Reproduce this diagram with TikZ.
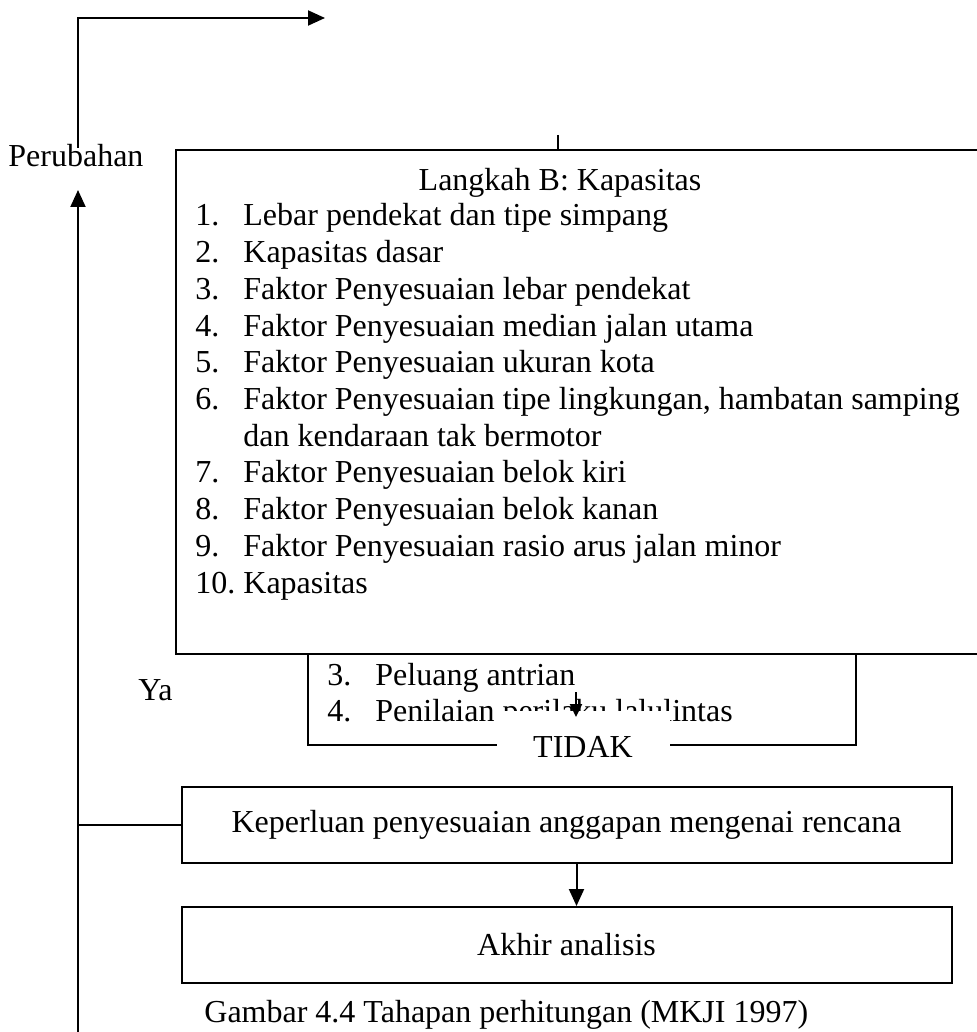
\documentclass[tikz,border=0pt]{standalone}
\usepackage{fontspec}
\setmainfont{Liberation Serif}
\usepackage{tikz}
\usetikzlibrary{arrows.meta,positioning}
\tikzset{
  flowbox/.style={rectangle,draw=black,line width=1pt,inner sep=0pt,
    minimum width=385pt,minimum height=38pt,align=center,
    font=\fontsize{16}{18.35}\selectfont},
  bigbox/.style={rectangle,draw=black,fill=white,line width=1pt,inner sep=0pt},
  darrow/.style={-{Triangle[length=8.5pt,width=7.5pt]},line width=1pt},
  sarrow/.style={-{Triangle[length=6.5pt,width=6pt]},line width=1pt},
  plainline/.style={line width=1pt},
  lbl/.style={inner sep=0pt,font=\fontsize{16}{18.35}\selectfont}
}

\begin{document}
\begin{tikzpicture}[x=0.5pt,y=-0.5pt]
  \useasboundingbox (0,0) rectangle (976,1032);

  % Langkah C, half hidden
  \node[bigbox,anchor=south west,minimum width=274pt,minimum height=100pt] (perilaku) at (307,746) {};
  \node[lbl,anchor=base west] (perilakulist) at (327,685) {%
    \begin{tabular}[t]{@{}p{24pt}@{}l@{}}
      3. & Peluang antrian\\
      4. & Penilaian perilaku lalulintas
    \end{tabular}};

  % Langkah B
  \node[bigbox,anchor=north west,minimum width=420pt,minimum height=252pt] (kapasitas) at (175,149) {};
  \node[lbl,anchor=base] (kaptitle) at (560,191) {Langkah B: Kapasitas};
  \node[lbl,anchor=base west] (kaplist) at (195,226) {%
    \begin{tabular}[t]{@{}p{24pt}@{}l@{}}
      1.  & Lebar pendekat dan tipe simpang\\
      2.  & Kapasitas dasar\\
      3.  & Faktor Penyesuaian lebar pendekat\\
      4.  & Faktor Penyesuaian median jalan utama\\
      5.  & Faktor Penyesuaian ukuran kota\\
      6.  & Faktor Penyesuaian tipe lingkungan, hambatan samping\\
          & dan kendaraan tak bermotor\\
      7.  & Faktor Penyesuaian belok kiri\\
      8.  & Faktor Penyesuaian belok kanan\\
      9.  & Faktor Penyesuaian rasio arus jalan minor\\
      10. & Kapasitas
    \end{tabular}};
  \coordinate (masuk) at (558,135);
  \draw[plainline] (masuk) -- (masuk |- kapasitas.north);

  % Keputusan
  \node[lbl,fill=white,minimum width=86.5pt,minimum height=36pt] (tidak) at (583,747) {TIDAK};
  \coordinate (cekA) at (576,692);
  \coordinate (cekB) at (576,717);
  \draw[sarrow] (cekA) -- (cekB);

  \node[lbl,anchor=base west] (ya) at (138,700) {Ya};

  % Kembali ke atas
  \node[lbl,anchor=base west] (perubahan) at (8,167) {Perubahan};
  \coordinate (balikA) at (78,148);
  \coordinate (balikB) at (325,18);
  \draw[darrow] (balikA) |- (balikB);

  % Bawah
  \node[flowbox] (keperluan) at (566.5,825) {Keperluan penyesuaian anggapan mengenai rencana};
  \node[flowbox,below=21pt of keperluan] (akhir) {Akhir analisis};
  \draw[darrow] ([xshift=5pt]keperluan.south) -- ([xshift=5pt]akhir.north);

  \coordinate (kiriA) at (78,1040);
  \coordinate (kiriB) at (78,190);
  \draw[darrow] (kiriA) -- (kiriB);
  \draw[plainline] (keperluan.west) -- (keperluan.west -| kiriA);

  \node[lbl,anchor=base west] (caption) at (204,1022) {Gambar 4.4 Tahapan perhitungan (MKJI 1997)};
\end{tikzpicture}
\end{document}
